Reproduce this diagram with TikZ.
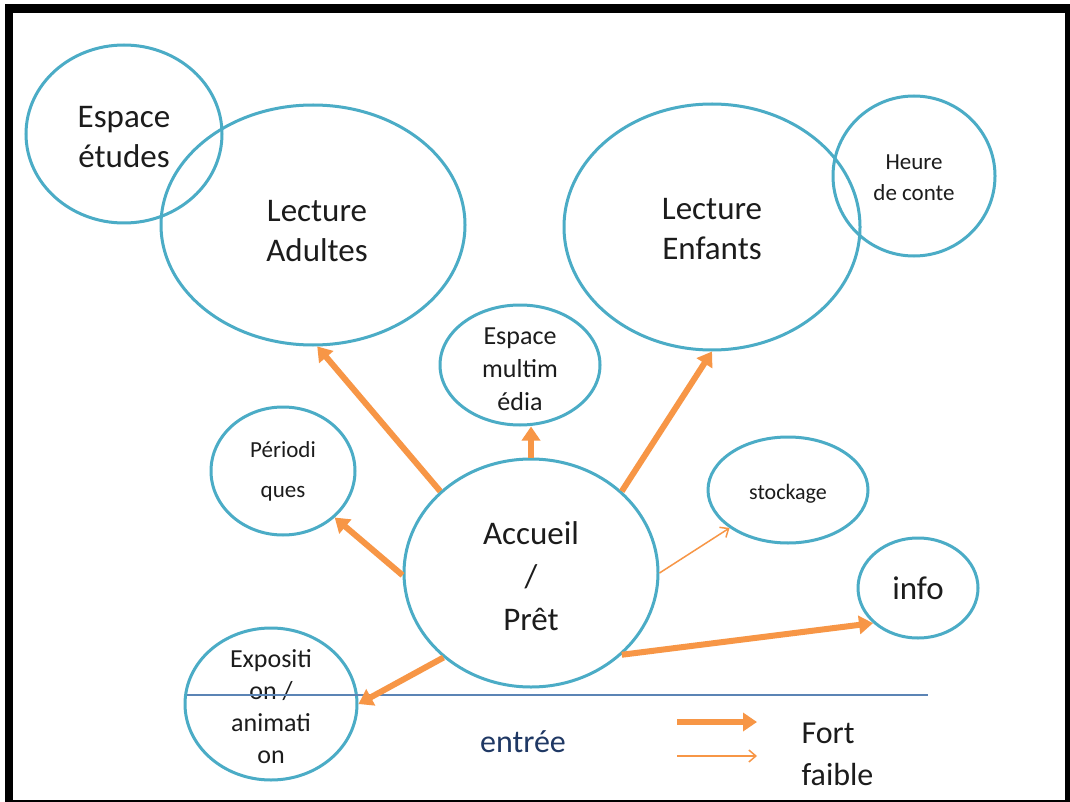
\documentclass[tikz,border=0pt]{standalone}
\usepackage{fontspec}
\setmainfont{Carlito}
\usetikzlibrary{shapes.geometric, arrows.meta}
\definecolor{bord}{HTML}{4BACC6}
\definecolor{fleche}{HTML}{F79646}
\definecolor{trait}{HTML}{5B84B5}
\definecolor{texte}{HTML}{1C1C1C}
\definecolor{marine}{HTML}{1F3864}

\begin{document}
\begin{tikzpicture}[x=1pt, y=-1pt,
    zone/.style={ellipse, draw=bord, line width=3pt, inner sep=0pt},
    txt/.style={align=center, text=texte},
    fort/.style={draw=fleche, line width=6pt, -{Triangle[length=14pt,width=18pt]}},
    faible/.style={draw=fleche, line width=1.5pt, -{Straight Barb[length=7pt,width=12pt]}}]
    \useasboundingbox (0,0) rectangle (1070,802);
    % frame
    \fill[black] (5,4) rectangle (1070,802);
    \fill[white] (13,13) rectangle (1065,800);

    % spaces
    \node[zone, minimum width=196pt, minimum height=178pt,
        label={[txt, font=\fontsize{33}{40}\selectfont, yshift=-3pt]center:Espace\\études}] (etu) at (124,134) {};
    \node[zone, minimum width=304pt, minimum height=240pt,
        label={[txt, font=\fontsize{33}{40}\selectfont, xshift=4pt, yshift=-6pt]center:Lecture\\Adultes}] (adu) at (313,225) {};
    \node[zone, minimum width=296pt, minimum height=246pt,
        label={[txt, font=\fontsize{33}{40}\selectfont, yshift=-2pt]center:Lecture\\Enfants}] (enf) at (712,227) {};
    \node[zone, minimum width=162pt, minimum height=160pt,
        label={[txt, font=\fontsize{23}{31}\selectfont, yshift=-2pt]center:Heure\\de conte}] (heu) at (914,176) {};
    \node[zone, minimum width=160pt, minimum height=120pt,
        label={[txt, font=\fontsize{26}{33}\selectfont, yshift=-4pt]center:Espace\\multim\\édia}] (mul) at (520,365) {};
    \node[zone, minimum width=144pt, minimum height=128pt,
        label={[txt, font=\fontsize{23}{40}\selectfont]center:Périodi\\ques}] (per) at (283,471) {};
    \node[zone, minimum width=254pt, minimum height=228pt,
        label={[txt, font=\fontsize{33}{43}\selectfont, yshift=-3pt]center:Accueil\\/\\Prêt}] (acc) at (531,573) {};
    \node[zone, minimum width=160pt, minimum height=106pt,
        label={[txt, font=\fontsize{22}{26}\selectfont, yshift=-4pt]center:stockage}] (sto) at (788,490) {};
    \node[zone, minimum width=120pt, minimum height=100pt,
        label={[txt, font=\fontsize{33}{40}\selectfont]center:info}] (inf) at (918,588) {};
    \node[zone, minimum width=172pt, minimum height=152pt,
        label={[txt, font=\fontsize{26}{32}\selectfont, yshift=-3pt]center:Expositi\\on /\\animati\\on}] (exp) at (271,704) {};

    % entrance line
    \coordinate (l1) at (187,695);
    \coordinate (l2) at (928,695);
    \draw[trait, line width=1.5pt] (l1) -- (l2);
    \node[text=marine, font=\fontsize{32}{38}\selectfont, anchor=base] (ent) at (523,752) {entrée};

    % links from the desk
    \draw[fort] (acc.138) -- (adu.-88);
    \draw[fort] (acc.north) -- (acc.north |- mul.south);
    \draw[fort] (acc.42) -- (enf.south);
    \draw[fort] (acc.181) -- (per.-42);
    \draw[faible] (acc.east) -- (sto.213);
    \draw[fort] (acc.-42) -- (inf.218);
    \draw[fort] (acc.224) -- (exp.east);

    % legend
    \coordinate (f1) at (677,722);
    \coordinate (f2) at (757,722);
    \coordinate (w1) at (677,756);
    \coordinate (w2) at (757,756);
    \draw[fort] (f1) -- (f2);
    \draw[faible] (w1) -- (w2);
    \node[text=texte, font=\fontsize{32}{38}\selectfont, anchor=base west] (frt) at (798,743) {Fort};
    \node[text=texte, font=\fontsize{32}{38}\selectfont, anchor=base west] (fbl) at (798,785) {faible};
\end{tikzpicture}
\end{document}
